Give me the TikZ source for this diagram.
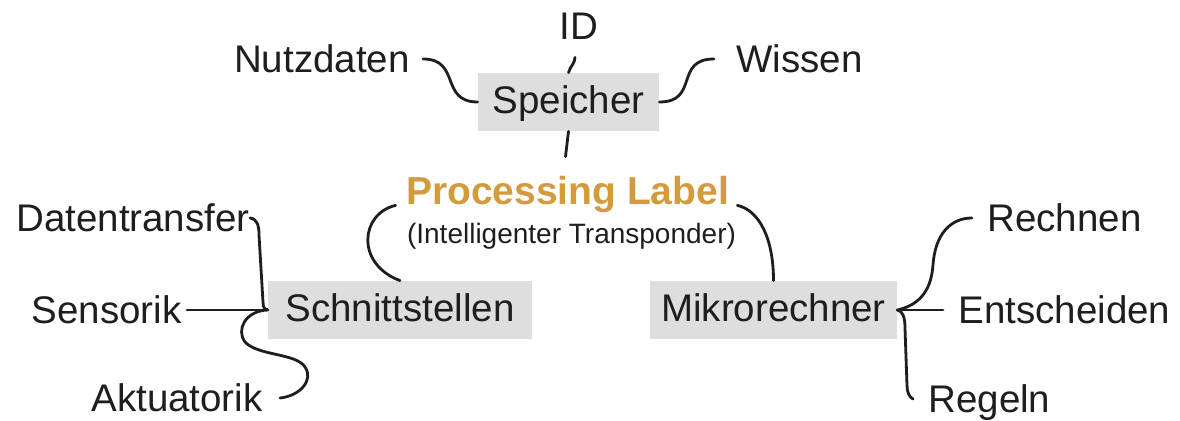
\documentclass[tikz,border=0pt]{standalone}
\usepackage{fontspec}
\setmainfont{Liberation Sans}
\usepackage{xcolor}
\usepackage{tikz}
\usetikzlibrary{positioning}
\definecolor{boxgray}{RGB}{222, 222, 222}
\definecolor{inkgray}{RGB}{30, 30, 30}
\definecolor{procorange}{RGB}{211, 155, 60}
\tikzset{
    topic/.style = {rectangle, fill=boxgray, text=inkgray, font=\fontsize{19.25}{23}\selectfont, inner sep=0pt, text height=15pt, text depth=3pt, minimum height=29pt},
    leaf/.style = {inner sep=0pt, text=inkgray, font=\fontsize{19.25}{23}\selectfont, text height=14pt, text depth=0pt},
    branch/.style = {draw=inkgray, line width=1.4pt, line cap=round, line join=round}
}
\begin{document}
\begin{tikzpicture}[x=0.5pt, y=-0.5pt]
\useasboundingbox (0,0) rectangle (1180,421);
% Nodes
\node (speicher) [topic, minimum width=90.5pt] at (568.5,102) {Speicher};
\node (schnitt) [topic, minimum width=132pt] at (400,310) {Schnittstellen};
\node (mikro) [topic, minimum width=123.5pt] at (773.5,310) {Mikrorechner};

\node (proc) [leaf, anchor=base, text=procorange, font=\fontsize{19.5}{23}\selectfont\bfseries] at (567.5,205) {Processing Label};
\node (procsub) [leaf, below=9pt of proc, xshift=2pt, text height=10pt, font=\fontsize{14}{17}\selectfont] {(Intelligenter Transponder)};

\node (id) [leaf, anchor=base] at (579,40) {ID};
\node (nutz) [leaf, anchor=base east] at (410,73) {Nutzdaten};
\node (wissen) [leaf, anchor=base west] at (736,73) {Wissen};

\node (daten) [leaf, anchor=base east] at (250,232) {Datentransfer};
\node (sens) [leaf, anchor=base east] at (182,324) {Sensorik};
\node (akt) [leaf, anchor=base east] at (263,412) {Aktuatorik};

\node (rech) [leaf, anchor=base west] at (987,232) {Rechnen};
\node (ent) [leaf, anchor=base west] at (958,324) {Entscheiden};
\node (reg) [leaf, anchor=base west] at (928,413) {Regeln};

% Connectors
\draw [branch] ([shift={(-2pt,-8.5pt)}]id.south) .. controls +(0,6) and +(2,-7) .. (speicher.north);
\draw [branch] ([xshift=6.5pt]nutz.east) .. controls +(38,0) and +(-38,0) .. (speicher.west);
\draw [branch] (speicher.east) .. controls +(40,0) and +(-40,0) .. ([xshift=-11pt]wissen.west);
\draw [branch] (speicher.south) -- ([shift={(-1pt,10pt)}]proc.north);

\draw [branch] ([xshift=-5pt]proc.south west) .. controls +(-35,8) and +(-45,-17) .. (schnitt.north);
\draw [branch] ([xshift=4pt]proc.south east) .. controls +(22,5) and +(0,-42) .. (mikro.north);

\draw [branch] (daten.east) .. controls (257,219) and (259,225) .. (259,235) -- (263,302) .. controls (263,308) and (265,310) .. (schnitt.west);
\draw [branch] ([xshift=2.5pt]sens.east) -- (schnitt.west);
\draw [branch] ([xshift=8.5pt]akt.east) .. controls (300,396) and (314,380) .. (305,367) .. controls (296,353) and (258,356) .. (245,342) .. controls (236,330) and (245,311) .. (schnitt.west);

\draw [branch] (mikro.east) .. controls (915,306) and (931,295) .. (933,265) .. controls (935,235) and (950,218) .. ([xshift=-7.5pt]rech.west);
\draw [branch] (mikro.east) -- ([xshift=-7.5pt]ent.west);
\draw [branch] (mikro.east) .. controls (903,311) and (905,318) .. (905,328) -- (907,385) .. controls (907,392) and (909,397) .. ([xshift=-7.5pt]reg.west);

\end{tikzpicture}
\end{document}
